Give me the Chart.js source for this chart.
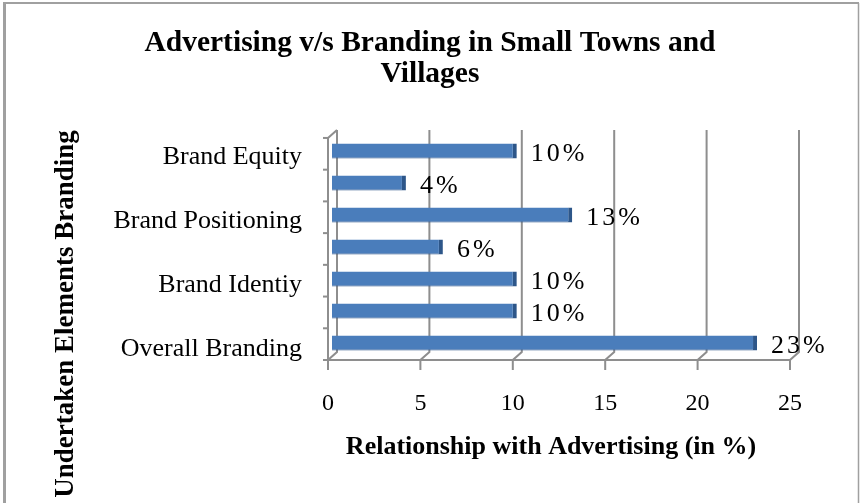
<!DOCTYPE html>
<html>
<head>
<meta charset="utf-8">
<script src="https://cdn.jsdelivr.net/npm/chart.js@4.4.1/dist/chart.umd.min.js"></script>
<style>
  html, body { margin: 0; padding: 0; background: #ffffff; }
  #wrap { width: 860px; height: 503px; position: relative; }
</style>
</head>
<body>
<div id="wrap"><canvas id="c" width="860" height="503"></canvas></div>
<script>
// ---- data ----
const categories = ['Brand Equity', '', 'Brand Positioning', '', 'Brand Identiy', '', 'Overall Branding'];
const values = [10, 4, 13, 6, 10, 10, 23];
const xTickValues = [0, 5, 10, 15, 20, 25];
const titleLines = ['Advertising v/s Branding in Small Towns and', 'Villages'];
const xAxisTitle = 'Relationship with Advertising (in %)';
const yAxisTitle = 'Undertaken Elements Branding';

const SERIF = '"Liberation Serif", "Times New Roman", serif';
const WALL = '#8e8e8e';

// 3D-like wall / floor drawn from the library's scales
const wallPlugin = {
  id: 'wall',
  beforeDatasetsDraw(chart) {
    const ctx = chart.ctx;
    const xs = chart.scales.x;
    const a = chart.chartArea;
    const backTop = a.top - 5, backBottom = a.bottom - 7;
    const frontTop = a.top + 3, frontBottom = a.bottom + 1;
    const dxBack = 5, dxFront = -4;
    ctx.save();
    ctx.strokeStyle = WALL;
    ctx.lineWidth = 2;
    xTickValues.forEach(v => {
      const px = xs.getPixelForValue(v);
      ctx.beginPath();
      ctx.moveTo(px + dxBack, backTop);
      ctx.lineTo(px + dxBack, backBottom);
      ctx.lineTo(px + dxFront, frontBottom);
      ctx.lineTo(px + dxFront, frontBottom + 10);
      ctx.stroke();
    });
    const x0 = xs.getPixelForValue(0), x1 = xs.getPixelForValue(xTickValues[xTickValues.length - 1]);
    ctx.beginPath();
    ctx.moveTo(x0 + dxFront, frontBottom);
    ctx.lineTo(x1 + dxFront, frontBottom);
    ctx.stroke();
    ctx.beginPath();
    ctx.moveTo(x0 + dxBack, backTop);
    ctx.lineTo(x0 + dxFront, frontTop);
    ctx.lineTo(x0 + dxFront, frontBottom);
    ctx.stroke();
    const n = categories.length;
    for (let k = 0; k <= n; k++) {
      const y = frontTop + (frontBottom - frontTop) * k / n;
      ctx.beginPath();
      ctx.moveTo(x0 + dxFront - 5, y);
      ctx.lineTo(x0 + dxFront, y);
      ctx.stroke();
    }
    ctx.restore();
  }
};

// value labels + axis titles + frame
const labelPlugin = {
  id: 'labels',
  afterDatasetsDraw(chart) {
    const ctx = chart.ctx;
    const meta = chart.getDatasetMeta(0);
    ctx.save();
    ctx.fillStyle = '#000';
    ctx.font = '26px ' + SERIF;
    ctx.textAlign = 'left';
    ctx.textBaseline = 'middle';
    try { ctx.letterSpacing = '3px'; } catch (e) {}
    meta.data.forEach((bar, i) => {
      ctx.fillText(values[i] + '%', bar.x + 14, bar.y + 3);
    });
    ctx.restore();
  },
  afterDraw(chart) {
    const ctx = chart.ctx;
    ctx.save();
    ctx.fillStyle = '#000';
    ctx.textAlign = 'center';
    ctx.textBaseline = 'middle';
    ctx.font = 'bold 26px ' + SERIF;
    ctx.fillText(xAxisTitle, 551, 447);
    ctx.translate(66, 314);
    ctx.rotate(-Math.PI / 2);
    ctx.font = 'bold 27px ' + SERIF;
    ctx.fillText(yAxisTitle, 0, 0);
    ctx.restore();
    // outer frame
    ctx.save();
    ctx.strokeStyle = '#a0a0a0';
    ctx.lineWidth = 3;
    ctx.beginPath();
    ctx.moveTo(4.5, 503);
    ctx.lineTo(4.5, 3);
    ctx.stroke();
    ctx.lineWidth = 2;
    ctx.beginPath();
    ctx.moveTo(3, 3);
    ctx.lineTo(859, 3);
    ctx.stroke();
    ctx.lineWidth = 1.5;
    ctx.beginPath();
    ctx.moveTo(858.5, 3);
    ctx.lineTo(858.5, 503);
    ctx.stroke();
    ctx.restore();
  }
};

new Chart(document.getElementById('c'), {
  type: 'bar',
  data: {
    labels: categories,
    datasets: [{
      data: values,
      backgroundColor: '#4a7dbb',
      borderColor: '#2d5689',
      borderWidth: { top: 0, right: 4, bottom: 1, left: 0 },
      borderSkipped: false,
      barPercentage: 0.47,
      categoryPercentage: 1.0
    }]
  },
  options: {
    indexAxis: 'y',
    responsive: false,
    animation: false,
    devicePixelRatio: 1,
    layout: { padding: { left: 66, right: 66, top: 0, bottom: 0 } },
    plugins: {
      legend: { display: false },
      tooltip: { enabled: false },
      title: {
        display: true,
        text: titleLines,
        color: '#000',
        font: { family: SERIF, size: 29.5, weight: 'bold', lineHeight: 1.05 },
        padding: { top: 28, bottom: 45 }
      }
    },
    scales: {
      x: {
        min: 0,
        max: 25,
        afterBuildTicks(scale) { scale.ticks = xTickValues.map(v => ({ value: v })); },
        ticks: {
          color: '#000',
          font: { family: SERIF, size: 24 },
          padding: 30,
          labelOffset: -4,
          maxRotation: 0
        },
        grid: { display: false, drawTicks: false },
        border: { display: false },
        afterFit(scale) { scale.height = 144; }
      },
      y: {
        ticks: {
          color: '#000',
          font: { family: SERIF, size: 26 },
          padding: 30,
          labelOffset: 6,
          autoSkip: false
        },
        grid: { display: false, drawTicks: false },
        border: { display: false },
        afterFit(scale) { scale.width = 266; }
      }
    }
  },
  plugins: [wallPlugin, labelPlugin]
});
</script>
</body>
</html>
